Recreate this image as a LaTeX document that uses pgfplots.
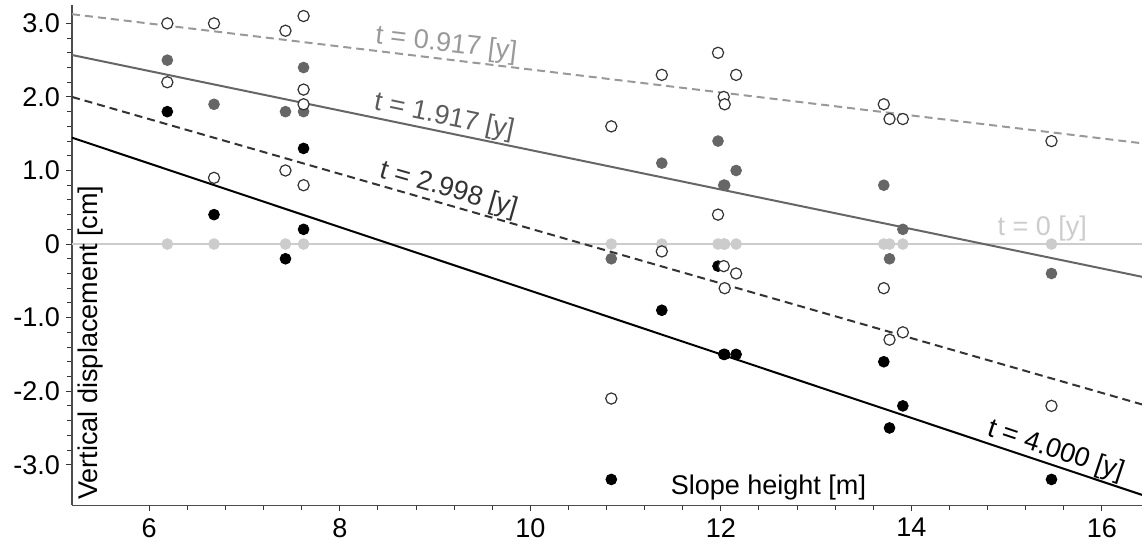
\documentclass[border=0pt]{standalone}
\usepackage{fontspec}
\setmainfont{Liberation Sans}
\usepackage{pgfplots}
\pgfplotsset{compat=1.18}

\definecolor{lgray}{HTML}{CCCCCC}
\definecolor{mgray}{HTML}{999999}
\definecolor{dgray}{HTML}{666666}
\definecolor{vdgray}{HTML}{333333}

% measured displacement [cm] against slope height [m], one table per epoch
\pgfplotstableread{
x y
6.19 3.0
6.68 3.0
7.43 2.9
7.62 3.1
7.62 2.1
10.85 1.6
11.38 2.3
11.97 2.6
12.03 2.0
12.04 1.9
12.16 2.3
13.71 1.9
13.77 1.7
13.91 1.7
15.47 1.4
}\tA
\pgfplotstableread{
x y
6.19 2.5
6.68 1.9
7.43 1.8
7.62 2.4
7.62 1.8
10.85 -0.2
11.38 1.1
11.97 1.4
12.03 0.8
12.04 0.8
12.16 1.0
13.71 0.8
13.77 -0.2
13.91 0.2
15.47 -0.4
}\tB
\pgfplotstableread{
x y
6.19 2.2
6.68 0.9
7.43 1.0
7.62 1.9
7.62 0.8
10.85 -2.1
11.38 -0.1
11.97 0.4
12.03 -0.3
12.04 -0.6
12.16 -0.4
13.71 -0.6
13.77 -1.3
13.91 -1.2
15.47 -2.2
}\tC
\pgfplotstableread{
x y
6.19 1.8
6.68 0.4
7.43 -0.2
7.62 1.3
7.62 0.2
10.85 -3.2
11.38 -0.9
11.97 -0.3
12.03 -1.5
12.04 -1.5
12.16 -1.5
13.71 -1.6
13.77 -2.5
13.91 -2.2
15.47 -3.2
}\tD
\pgfplotstableread{
x y
6.19 0
6.68 0
7.43 0
7.62 0
10.85 0
11.38 0
11.97 0
12.03 0
12.04 0
12.16 0
13.71 0
13.77 0
13.91 0
15.47 0
}\tZ

\begin{document}
\begin{tikzpicture}
\begin{axis}[
    x=47.6pt, y=36.75pt,
    xmin=5.19, xmax=16.42,
    ymin=-3.55, ymax=3.25,
    axis lines=left,
    axis line style={-, black!70, line width=0.6pt},
    xtick={6,8,10,12,14,16},
    xticklabels={6,8,10,12,14,16},
    ytick={-3,-2,-1,0,1,2,3},
    yticklabels={-3.0,-2.0,-1.0,0,1.0,2.0,3.0},
    minor x tick num=4,
    minor y tick num=4,
    tick align=outside,
    major tick length=3pt,
    minor tick length=2.5pt,
    tick style={black!80, line width=0.5pt},
    tick label style={font=\fontsize{13.5}{13.5}\selectfont},
    yticklabel style={xshift=0.5pt},
    clip=false,
    every axis plot/.append style={line width=1pt},
]
\coordinate (bl) at (rel axis cs:0,0);
\coordinate (tr) at (rel axis cs:1,1);

% fitted lines
\addplot[lgray, no markers] coordinates {(5.19,0) (16.42,0)};
\addplot[mgray, no markers, dash pattern=on 4pt off 2.5pt]
    coordinates {(5.19,3.125) (16.42,1.37)}
    node[pos=0.348, sloped, above, inner sep=0.5pt, text=mgray,
         font=\fontsize{13.5}{13.5}\selectfont] {t = 0.917 [y]};
\addplot[dgray, no markers]
    coordinates {(5.19,2.57) (16.42,-0.445)}
    node[pos=0.345, sloped, above, inner sep=0.5pt, text=dgray!90!black,
         font=\fontsize{13.5}{13.5}\selectfont] {t = 1.917 [y]};
\addplot[vdgray, no markers, dash pattern=on 4pt off 2.5pt]
    coordinates {(5.19,2.0) (16.42,-2.18)}
    node[pos=0.348, sloped, above, inner sep=0.5pt, text=vdgray,
         font=\fontsize{13.5}{13.5}\selectfont] {t = 2.998 [y]};
\addplot[black, no markers]
    coordinates {(5.19,1.446) (16.42,-3.41)}
    node[pos=0.915, sloped, above, inner sep=0.3pt, text=black,
         font=\fontsize{13.5}{13.5}\selectfont] {t = 4.000 [y]};

% measurements
\addplot[only marks, mark=*, mark size=2.7pt, mark options={draw=lgray, fill=lgray, line width=0.4pt}] table {\tZ};
\addplot[only marks, mark=*, mark size=2.7pt, mark options={draw=dgray, fill=dgray, line width=0.4pt}] table {\tB};
\addplot[only marks, mark=*, mark size=2.7pt, mark options={draw=black, fill=black, line width=0.4pt}] table {\tD};
\addplot[only marks, mark=*, mark size=2.8pt, mark options={draw=vdgray, fill=white, line width=0.6pt}] table {\tA};
\addplot[only marks, mark=*, mark size=2.8pt, mark options={draw=vdgray, fill=white, line width=0.6pt}] table {\tC};

% texts
\node[anchor=base west, text=lgray, font=\fontsize{13.5}{13.5}\selectfont]
    at (axis cs:14.83,0.12) {t = 0 [y]};
\node[rotate=90, anchor=base west, inner sep=0pt, font=\fontsize{13.5}{13.5}\selectfont]
    at (axis cs:5.455,-3.48) {Vertical displacement [cm]};
\node[anchor=base west, inner sep=0pt, font=\fontsize{13.5}{13.5}\selectfont]
    at (axis cs:11.47,-3.40) {Slope height [m]};
\end{axis}
\pgfresetboundingbox
\path[use as bounding box] ([shift={(-36pt,-19pt)}]bl) rectangle ([shift={(0pt,2.5pt)}]tr);
\end{tikzpicture}
\end{document}
